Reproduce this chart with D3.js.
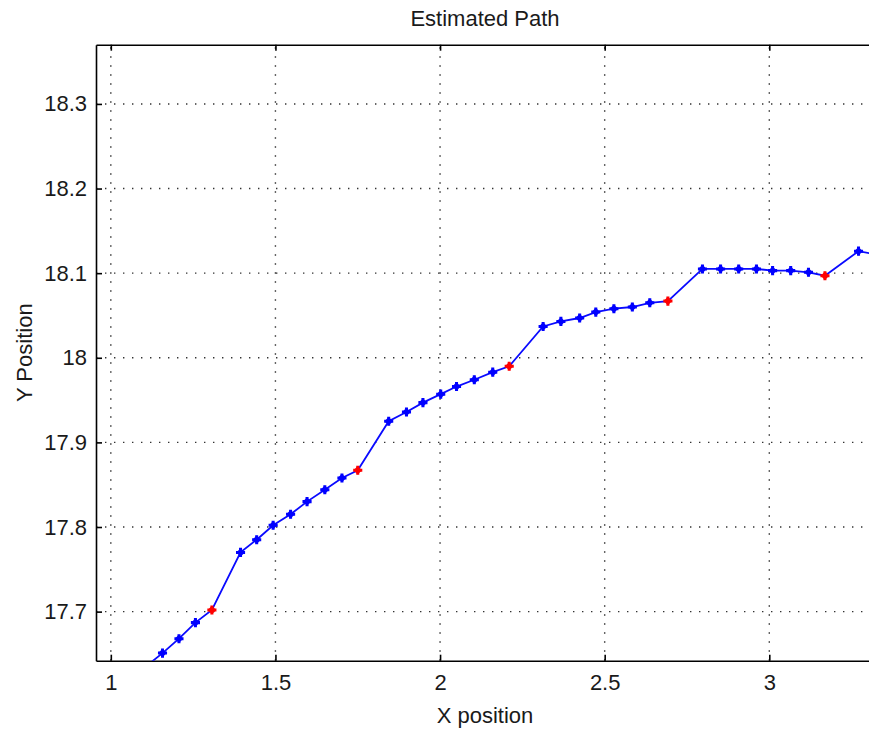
<!DOCTYPE html>
<html>
<head>
<meta charset="utf-8">
<script src="https://cdn.jsdelivr.net/npm/d3@7"></script>
<style>
  html, body { margin: 0; padding: 0; background: #fff; }
  svg { display: block; }
  text { font-family: "Liberation Sans", Arial, sans-serif; fill: #1a1a1a; }
</style>
</head>
<body>
<svg id="chart" width="869" height="731"></svg>
<script>
// Estimated path samples (x, y); every 8th sample is a position fix
const pathX = [1.106, 1.157, 1.207, 1.257, 1.307, 1.394, 1.443, 1.493, 1.546, 1.596,
               1.650, 1.702, 1.750, 1.844, 1.898, 1.948, 2.002, 2.050, 2.104, 2.160,
               2.210, 2.313, 2.367, 2.424, 2.473, 2.528, 2.584, 2.637, 2.692, 2.797,
               2.852, 2.907, 2.961, 3.010, 3.065, 3.119, 3.169, 3.271, 3.324];
const pathY = [17.635, 17.651, 17.668, 17.687, 17.702, 17.770, 17.785, 17.802, 17.815, 17.830,
               17.844, 17.858, 17.867, 17.925, 17.936, 17.947, 17.957, 17.966, 17.974, 17.983,
               17.990, 18.037, 18.043, 18.047, 18.054, 18.058, 18.060, 18.065, 18.067, 18.105,
               18.105, 18.105, 18.105, 18.103, 18.103, 18.101, 18.097, 18.126, 18.122];
const fixIndex = [4, 12, 20, 28, 36];

const xTicks = [1, 1.5, 2, 2.5, 3];
const xTickLabels = ["1", "1.5", "2", "2.5", "3"];
const yTicks = [17.7, 17.8, 17.9, 18, 18.1, 18.2, 18.3];
const yTickLabels = ["17.7", "17.8", "17.9", "18", "18.1", "18.2", "18.3"];

const titleText = "Estimated Path";
const xLabelText = "X position";
const yLabelText = "Y Position";

const svg = d3.select("#chart");
const plotLeft = 96, plotRight = 874, plotTop = 44.7, plotBottom = 660.7;
const fontSize = 22;

const x = d3.scaleLinear().domain([0.955, 3.318]).range([plotLeft, plotRight]);
const y = d3.scaleLinear().domain([17.642, 18.370]).range([plotBottom, plotTop]);

svg.append("rect").attr("width", 869).attr("height", 731).attr("fill", "#fff");

svg.append("defs").append("clipPath").attr("id", "plot-clip")
  .append("rect").attr("x", plotLeft).attr("y", plotTop)
  .attr("width", plotRight - plotLeft).attr("height", plotBottom - plotTop);

// dotted grid
const grid = svg.append("g").attr("stroke", "#333").attr("stroke-width", 1.4)
  .attr("stroke-dasharray", "1.4,7.6");
grid.selectAll("line.gx").data(xTicks).join("line").attr("class", "gx")
  .attr("x1", d => x(d)).attr("x2", d => x(d))
  .attr("y1", plotBottom).attr("y2", plotTop);
grid.selectAll("line.gy").data(yTicks).join("line").attr("class", "gy")
  .attr("x1", plotLeft).attr("x2", plotRight)
  .attr("y1", d => y(d)).attr("y2", d => y(d));

// axes with inward ticks
const xFmt = (d, i) => xTickLabels[i];
const yFmt = (d, i) => yTickLabels[i];

const gx = svg.append("g").attr("transform", `translate(0,${plotBottom})`)
  .call(d3.axisBottom(x).tickValues(xTicks).tickFormat(xFmt)
    .tickSizeInner(-6).tickSizeOuter(0).tickPadding(14));
const gxTop = svg.append("g").attr("transform", `translate(0,${plotTop})`)
  .call(d3.axisTop(x).tickValues(xTicks).tickFormat("")
    .tickSizeInner(-6).tickSizeOuter(0));
const gy = svg.append("g").attr("transform", `translate(${plotLeft},0)`)
  .call(d3.axisLeft(y).tickValues(yTicks).tickFormat(yFmt)
    .tickSizeInner(-6).tickSizeOuter(0).tickPadding(9));

[gx, gxTop, gy].forEach(g => {
  g.select(".domain").attr("stroke", "#000").attr("stroke-width", 1.6);
  g.selectAll(".tick line").attr("stroke", "#000").attr("stroke-width", 1.6);
  g.selectAll("text").attr("font-size", fontSize)
    .attr("font-family", "'Liberation Sans', Arial, sans-serif").attr("fill", "#1a1a1a");
});

// path line and markers
const pts = pathX.map((v, i) => ({ x: v, y: pathY[i], fix: fixIndex.includes(i) }));
const plot = svg.append("g").attr("clip-path", "url(#plot-clip)");

plot.append("path").datum(pts)
  .attr("fill", "none").attr("stroke", "#0a0aff").attr("stroke-width", 1.8)
  .attr("d", d3.line().x(d => x(d.x)).y(d => y(d.y)));

// marker: a rotated square (diamond) overlaid with a plus
const square = d3.symbol().type(d3.symbolSquare).size(36)();
const cross = d3.symbol().type(d3.symbolCross).size(46)();
const mk = plot.selectAll("g.mk").data(pts).join("g").attr("class", "mk")
  .attr("transform", d => `translate(${x(d.x)},${y(d.y)})`)
  .attr("fill", d => d.fix ? "#ff0000" : "#0000ff");
mk.append("path").attr("d", square).attr("transform", "rotate(45)");
mk.append("path").attr("d", cross);

// labels
svg.append("text").attr("x", (plotLeft + plotRight) / 2).attr("y", 26)
  .attr("text-anchor", "middle").attr("font-size", fontSize).text(titleText);
svg.append("text").attr("x", (plotLeft + plotRight) / 2).attr("y", 723)
  .attr("text-anchor", "middle").attr("font-size", fontSize).text(xLabelText);
svg.append("text").attr("transform", `translate(32,${(plotTop + plotBottom) / 2}) rotate(-90)`)
  .attr("text-anchor", "middle").attr("font-size", fontSize).text(yLabelText);
</script>
</body>
</html>
